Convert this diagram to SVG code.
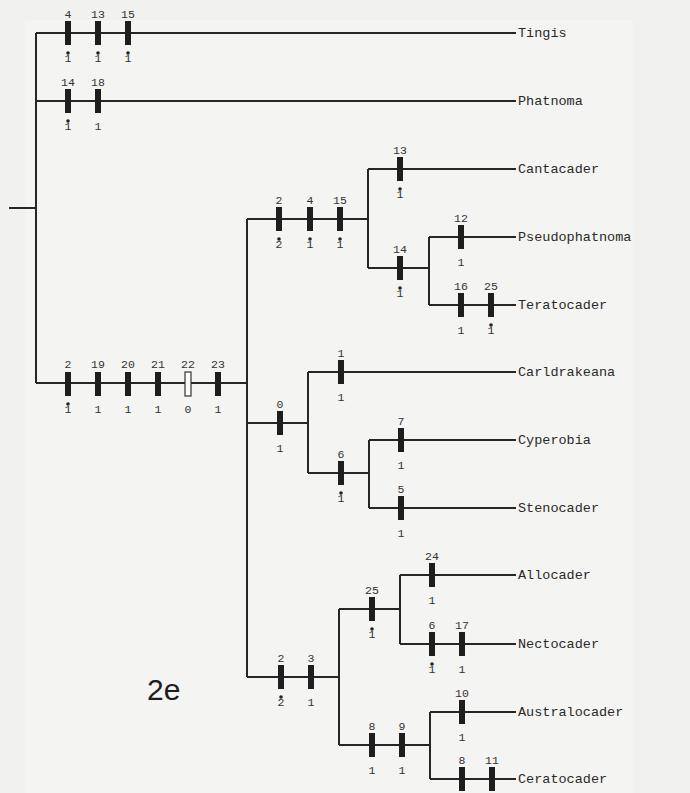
<svg xmlns="http://www.w3.org/2000/svg" width="690" height="793" viewBox="0 0 690 793">
<defs>
<style>
.ln{stroke:#262626;stroke-width:2;fill:none}
.bar{fill:#1e1e1e}
.obar{fill:#fafafa;stroke:#333;stroke-width:1.2}
.n{font-family:"Liberation Mono","DejaVu Sans Mono",monospace;font-size:11.5px;fill:#333;text-anchor:middle}
.tx{font-family:"Liberation Mono","Courier New",monospace;font-size:13.5px;fill:#2a2a2a}
.dot{fill:#222}
.big{font-family:"Liberation Sans",Arial,sans-serif;font-size:30px;fill:#1e1e1e}
</style>
<rect id="b" x="-3" y="-12" width="6" height="24"/>
<rect id="ob" x="-3" y="-12" width="6" height="24"/>
</defs>
<rect width="690" height="793" fill="#f1f1ef"/>
<rect x="25" y="20" width="608" height="773" fill="#f4f4f2"/>
<g id="connectors" class="ln">
<path d="M9 208H36M36 33V383M36 33H516M36 101H516M36 383H247M247 219V677M247 219H368M368 169V268M368 169H516M368 268H429M429 237V305M429 237H516M429 305H516M247 423H308M308 372V473M308 372H516M308 473H369M369 440V508M369 440H516M369 508H516M247 677H339M339 609V745M339 609H400M400 575V644M400 575H516M400 644H516M339 745H430M430 712V779M430 712H516M430 779H516"/>
</g>
<g id="chars">
<g id="br-tingis">
<use href="#b" class="bar" x="68" y="33"/><use href="#b" class="bar" x="98" y="33"/><use href="#b" class="bar" x="128" y="33"/>
<text class="n" x="68" y="18">4</text><text class="n" x="98" y="18">13</text><text class="n" x="128" y="18">15</text>
<text class="n" x="68" y="62">1</text><circle class="dot" cx="68" cy="53" r="1.8"/>
<text class="n" x="98" y="62">1</text><circle class="dot" cx="98" cy="53" r="1.8"/>
<text class="n" x="128" y="62">1</text><circle class="dot" cx="128" cy="53" r="1.8"/>
</g>
<g id="br-phatnoma">
<use href="#b" class="bar" x="68" y="101"/><use href="#b" class="bar" x="98" y="101"/>
<text class="n" x="68" y="86">14</text><text class="n" x="98" y="86">18</text>
<text class="n" x="68" y="130">1</text><circle class="dot" cx="68" cy="121" r="1.8"/>
<text class="n" x="98" y="130">1</text>
</g>
<g id="br-main">
<use href="#b" class="bar" x="68" y="384"/><use href="#b" class="bar" x="98" y="384"/><use href="#b" class="bar" x="128" y="384"/><use href="#b" class="bar" x="158" y="384"/><use href="#ob" class="obar" x="188" y="384"/><use href="#b" class="bar" x="218" y="384"/>
<text class="n" x="68" y="368">2</text><text class="n" x="98" y="368">19</text><text class="n" x="128" y="368">20</text><text class="n" x="158" y="368">21</text><text class="n" x="188" y="368">22</text><text class="n" x="218" y="368">23</text>
<text class="n" x="68" y="413">1</text><circle class="dot" cx="68" cy="404" r="1.8"/>
<text class="n" x="98" y="413">1</text><text class="n" x="128" y="413">1</text><text class="n" x="158" y="413">1</text><text class="n" x="188" y="413">0</text><text class="n" x="218" y="413">1</text>
</g>
<g id="br-cantacaderclade">
<use href="#b" class="bar" x="279" y="219"/><use href="#b" class="bar" x="310" y="219"/><use href="#b" class="bar" x="340" y="219"/>
<text class="n" x="279" y="204">2</text><text class="n" x="310" y="204">4</text><text class="n" x="340" y="204">15</text>
<text class="n" x="279" y="248">2</text><circle class="dot" cx="279" cy="239" r="1.8"/>
<text class="n" x="310" y="248">1</text><circle class="dot" cx="310" cy="239" r="1.8"/>
<text class="n" x="340" y="248">1</text><circle class="dot" cx="340" cy="239" r="1.8"/>
</g>
<g id="br-cantacader">
<use href="#b" class="bar" x="400" y="169"/>
<text class="n" x="400" y="154">13</text>
<text class="n" x="400" y="198">1</text><circle class="dot" cx="400" cy="189" r="1.8"/>
</g>
<g id="br-pt">
<use href="#b" class="bar" x="400" y="268"/>
<text class="n" x="400" y="253">14</text>
<text class="n" x="400" y="297">1</text><circle class="dot" cx="400" cy="288" r="1.8"/>
</g>
<g id="br-pseudophatnoma">
<use href="#b" class="bar" x="461" y="237"/>
<text class="n" x="461" y="222">12</text><text class="n" x="461" y="266">1</text>
</g>
<g id="br-teratocader">
<use href="#b" class="bar" x="461" y="305"/><use href="#b" class="bar" x="491" y="305"/>
<text class="n" x="461" y="290">16</text><text class="n" x="491" y="290">25</text>
<text class="n" x="461" y="334">1</text>
<text class="n" x="491" y="334">1</text><circle class="dot" cx="491" cy="325" r="1.8"/>
</g>
<g id="br-clade0">
<use href="#b" class="bar" x="280" y="423"/>
<text class="n" x="280" y="408">0</text><text class="n" x="280" y="452">1</text>
</g>
<g id="br-carldrakeana">
<use href="#b" class="bar" x="341" y="372"/>
<text class="n" x="341" y="357">1</text><text class="n" x="341" y="401">1</text>
</g>
<g id="br-cs">
<use href="#b" class="bar" x="341" y="473"/>
<text class="n" x="341" y="458">6</text>
<text class="n" x="341" y="502">1</text><circle class="dot" cx="341" cy="493" r="1.8"/>
</g>
<g id="br-cyperobia">
<use href="#b" class="bar" x="401" y="440"/>
<text class="n" x="401" y="425">7</text><text class="n" x="401" y="469">1</text>
</g>
<g id="br-stenocader">
<use href="#b" class="bar" x="401" y="508"/>
<text class="n" x="401" y="493">5</text><text class="n" x="401" y="537">1</text>
</g>
<g id="br-clade23">
<use href="#b" class="bar" x="281" y="677"/><use href="#b" class="bar" x="311" y="677"/>
<text class="n" x="281" y="662">2</text><text class="n" x="311" y="662">3</text>
<text class="n" x="281" y="706">2</text><circle class="dot" cx="281" cy="697" r="1.8"/>
<text class="n" x="311" y="706">1</text>
</g>
<g id="br-an">
<use href="#b" class="bar" x="372" y="609"/>
<text class="n" x="372" y="594">25</text>
<text class="n" x="372" y="638">1</text><circle class="dot" cx="372" cy="629" r="1.8"/>
</g>
<g id="br-allocader">
<use href="#b" class="bar" x="432" y="575"/>
<text class="n" x="432" y="560">24</text><text class="n" x="432" y="604">1</text>
</g>
<g id="br-nectocader">
<use href="#b" class="bar" x="432" y="644"/><use href="#b" class="bar" x="462" y="644"/>
<text class="n" x="432" y="629">6</text><text class="n" x="462" y="629">17</text>
<text class="n" x="432" y="673">1</text><circle class="dot" cx="432" cy="664" r="1.8"/>
<text class="n" x="462" y="673">1</text>
</g>
<g id="br-ac">
<use href="#b" class="bar" x="372" y="745"/><use href="#b" class="bar" x="402" y="745"/>
<text class="n" x="372" y="730">8</text><text class="n" x="402" y="730">9</text>
<text class="n" x="372" y="774">1</text><text class="n" x="402" y="774">1</text>
</g>
<g id="br-australocader">
<use href="#b" class="bar" x="462" y="712"/>
<text class="n" x="462" y="697">10</text><text class="n" x="462" y="741">1</text>
</g>
<g id="br-ceratocader">
<use href="#b" class="bar" x="462" y="779"/><use href="#b" class="bar" x="492" y="779"/>
<text class="n" x="462" y="764">8</text><text class="n" x="492" y="764">11</text>
</g>
</g>
<g id="taxa" class="tx">
<g id="tingis"><text x="518" y="37">Tingis</text></g>
<g id="phatnoma"><text x="518" y="105">Phatnoma</text></g>
<g id="cantacader"><text x="518" y="173">Cantacader</text></g>
<g id="pseudophatnoma"><text x="518" y="241">Pseudophatnoma</text></g>
<g id="teratocader"><text x="518" y="309">Teratocader</text></g>
<g id="carldrakeana"><text x="518" y="376">Carldrakeana</text></g>
<g id="cyperobia"><text x="518" y="444">Cyperobia</text></g>
<g id="stenocader"><text x="518" y="512">Stenocader</text></g>
<g id="allocader"><text x="518" y="579">Allocader</text></g>
<g id="nectocader"><text x="518" y="648">Nectocader</text></g>
<g id="australocader"><text x="518" y="716">Australocader</text></g>
<g id="ceratocader"><text x="518" y="783">Ceratocader</text></g>
</g>
<text class="big" x="147" y="700">2e</text>
</svg>
